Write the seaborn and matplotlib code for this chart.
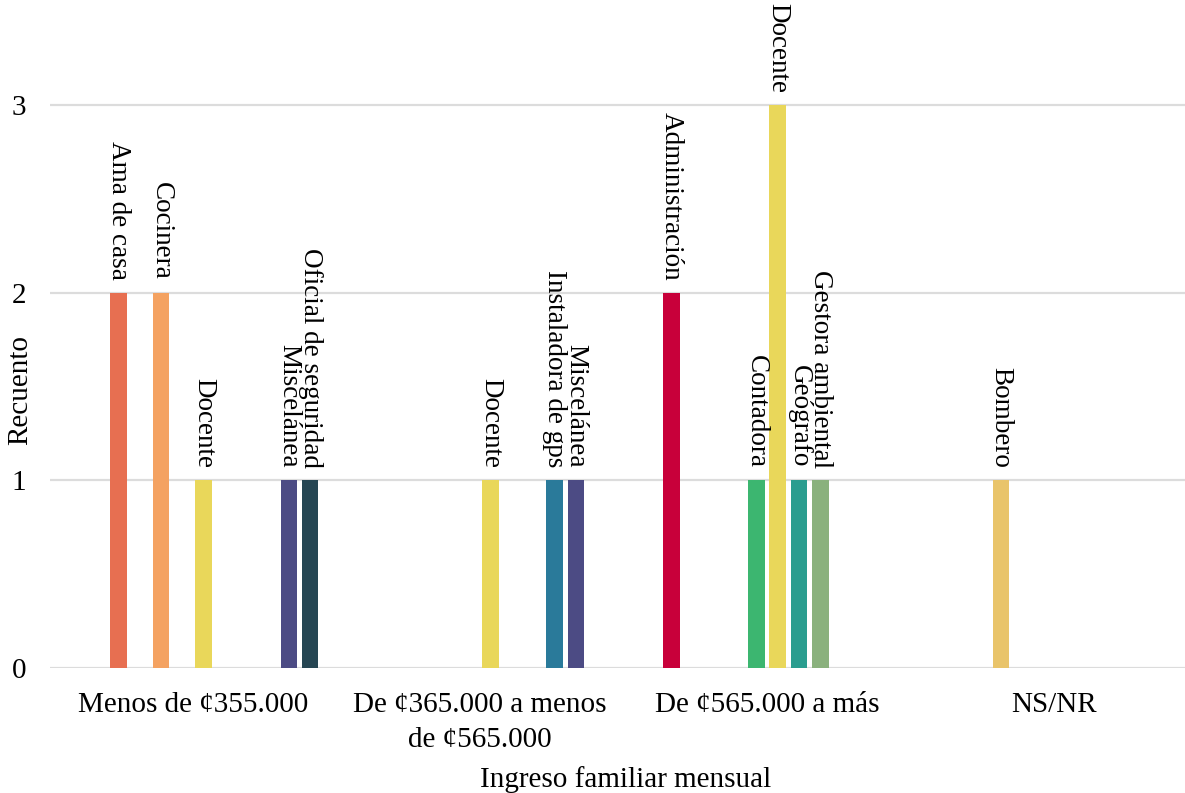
import matplotlib
matplotlib.use("Agg")
import matplotlib.pyplot as plt
import matplotlib.colors as mcolors
import seaborn as sns
import pandas as pd

# Datos
ingreso = ["Menos de ¢355.000", "Menos de ¢355.000", "Menos de ¢355.000",
           "Menos de ¢355.000", "Menos de ¢355.000",
           "De ¢365.000 a menos\nde ¢565.000", "De ¢365.000 a menos\nde ¢565.000",
           "De ¢365.000 a menos\nde ¢565.000",
           "De ¢565.000 a más", "De ¢565.000 a más", "De ¢565.000 a más",
           "De ¢565.000 a más", "De ¢565.000 a más",
           "NS/NR"]
ocupacion = ["Ama de casa", "Cocinera", "Docente", "Miscelánea", "Oficial de seguridad",
             "Docente", "Instaladora de gps", "Miscelánea",
             "Administración", "Contadora", "Docente", "Geógrafo", "Gestora ambiental",
             "Bombero"]
recuento = [2, 2, 1, 1, 1,
            1, 1, 1,
            2, 1, 3, 1, 1,
            1]

orden_ingreso = ["Menos de ¢355.000", "De ¢365.000 a menos\nde ¢565.000",
                 "De ¢565.000 a más", "NS/NR"]
# el primer nivel vacío ocupa un hueco sin datos en el original
orden_ocup = ["", "Administración", "Ama de casa", "Bombero", "Cocinera", "Contadora",
              "Docente", "Geógrafo", "Gestora ambiental", "Instaladora de gps",
              "Miscelánea", "Oficial de seguridad"]
colores = ["#ffffff", "#c8003a", "#e76f51", "#e9c46a", "#f4a261", "#3cb670",
           "#e9d75a", "#2a9d8f", "#8ab17d", "#2a7a9a", "#4c4b84", "#264653"]

df = pd.DataFrame({"ingreso": ingreso, "ocupacion": ocupacion, "recuento": recuento})
paleta = dict(zip(orden_ocup, colores))

sns.set_style("white")
plt.rcParams["font.family"] = ["Liberation Serif", "DejaVu Serif"]

fig = plt.figure(figsize=(11.85, 7.93), dpi=100)
ax = fig.add_axes([49.5 / 1185, 125 / 793, 1 - 49.5 / 1185, 668 / 793])

sns.barplot(data=df, x="ingreso", y="recuento", hue="ocupacion",
            order=orden_ingreso, hue_order=orden_ocup, palette=paleta,
            errorbar=None, width=0.89, gap=0.22, saturation=1,
            linewidth=0, legend=False, ax=ax)

# etiquetas verticales sobre cada barra
color_a_nombre = {mcolors.to_hex(c): n for n, c in paleta.items()}
for cont in ax.containers:
    if len(cont.patches) == 0:
        continue
    nombre = color_a_nombre.get(mcolors.to_hex(cont.patches[0].get_facecolor()), "")
    ax.bar_label(cont, labels=[nombre] * len(cont), rotation=-90,
                 padding=9, fontsize=19.5, color="black")

ax.set_xlim(-0.5, 3.456)
ax.set_ylim(0, 3.56)
ax.set_yticks([0, 1, 2, 3])
ax.grid(axis="y", color="#dcdcdc", linewidth=1.6)
ax.grid(axis="x", visible=False)
ax.set_axisbelow(True)
for s in ax.spines.values():
    s.set_visible(False)

ax.tick_params(axis="both", length=0, labelsize=21, colors="black")
ax.tick_params(axis="y", pad=17)
ax.tick_params(axis="x", pad=17)
for t in ax.get_xticklabels():
    t.set_linespacing(1.45)

ax.set_xlabel("Ingreso familiar mensual", fontsize=21, color="black")
ax.set_ylabel("Recuento", fontsize=21, color="black")
ax.xaxis.set_label_coords(0.507, -0.147)
ax.yaxis.set_label_coords(-0.0145, 0.416)

fig.savefig("out.png", dpi=100)
